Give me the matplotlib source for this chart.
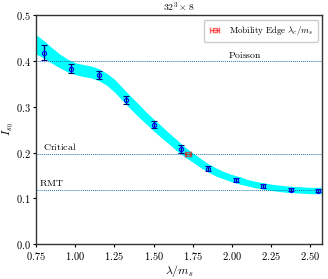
import numpy as np
import matplotlib
matplotlib.use('Agg')
import matplotlib.pyplot as plt

plt.rcParams['mathtext.fontset'] = 'cm'

# data points
lam = [0.80, 0.975, 1.15, 1.325, 1.50, 1.675, 1.85, 2.025, 2.20, 2.375, 2.55]
I_s0 = [0.418, 0.383, 0.369, 0.315, 0.261, 0.207, 0.165, 0.140, 0.127, 0.119, 0.117]
I_err = [0.017, 0.010, 0.008, 0.009, 0.008, 0.009, 0.005, 0.004, 0.004, 0.003, 0.003]

# fit band
band_x = [0.75, 0.80, 0.85, 0.90, 0.95, 1.00, 1.05, 1.10, 1.15, 1.20, 1.25, 1.30,
          1.35, 1.40, 1.45, 1.50, 1.55, 1.60, 1.65, 1.70, 1.75, 1.80, 1.85, 1.90,
          1.95, 2.00, 2.05, 2.10, 2.15, 2.20, 2.25, 2.30, 2.35, 2.40, 2.45, 2.50, 2.57]
band_mid = [0.436, 0.425, 0.412, 0.400, 0.390, 0.383, 0.379, 0.376, 0.370, 0.360,
            0.346, 0.328, 0.310, 0.293, 0.276, 0.260, 0.245, 0.230, 0.215, 0.201,
            0.189, 0.177, 0.166, 0.157, 0.150, 0.144, 0.139, 0.134, 0.130, 0.127,
            0.124, 0.122, 0.120, 0.119, 0.118, 0.117, 0.117]
band_hw = [0.021, 0.019, 0.017, 0.015, 0.014, 0.013, 0.013, 0.013, 0.013, 0.013,
           0.014, 0.014, 0.014, 0.014, 0.013, 0.013, 0.013, 0.012, 0.012, 0.011,
           0.010, 0.010, 0.009, 0.009, 0.008, 0.008, 0.008, 0.007, 0.007, 0.007,
           0.007, 0.007, 0.007, 0.007, 0.007, 0.007, 0.007]

# mobility edge
lam_c = 1.718
lam_c_err = 0.02
I_c = 0.1966

# reference lines
lines = {'Poisson': 0.3989, 'Critical': 0.1966, 'RMT': 0.1180}
label_pos = {'Poisson': 2.08, 'Critical': 0.90, 'RMT': 0.85}

xticks = [0.75, 1.00, 1.25, 1.50, 1.75, 2.00, 2.25, 2.50]
yticks = [0.0, 0.1, 0.2, 0.3, 0.4, 0.5]

fig, ax = plt.subplots(figsize=(3.28, 2.79), dpi=100)
fig.subplots_adjust(left=0.11, right=0.982, top=0.946, bottom=0.125)

bm = np.array(band_mid)
bh = np.array(band_hw)
ax.fill_between(band_x, bm - bh, bm + bh, color='cyan', lw=0, zorder=1)

for name, val in lines.items():
    ax.axhline(val, ls=(0, (1, 1)), color='tab:blue', lw=0.7, zorder=2)
    ax.text(label_pos[name], val + 0.004, r'$\mathrm{%s}$' % name, ha='center',
            va='bottom', fontsize=7)

ax.errorbar(lam, I_s0, yerr=I_err, fmt='o', ms=3, mfc='none', mec='blue', mew=0.8,
            ecolor='navy', elinewidth=1.0, capsize=2.5, capthick=1.0, zorder=3)
ax.errorbar([lam_c], [I_c], xerr=[lam_c_err], fmt='s', ms=2.5, mfc='none', color='red',
            alpha=0.6, elinewidth=1.0, capsize=2.5, capthick=1.0, zorder=4,
            label=r'$\mathrm{Mobility\ Edge}\ \lambda_c/m_s$')

ax.set_xlim(0.75, 2.575)
ax.set_ylim(0.0, 0.5)
ax.set_xticks(xticks)
ax.set_xticklabels(['$%.2f$' % t for t in xticks])
ax.set_yticks(yticks)
ax.set_yticklabels(['$%.1f$' % t for t in yticks])
ax.tick_params(labelsize=7.5, length=2.5, width=0.8, pad=1.5)
for s in ax.spines.values():
    s.set_linewidth(1.0)
    s.set_color('#333333')

ax.set_xlabel(r'$\lambda/m_s$', fontsize=8.5, labelpad=1)
ax.set_ylabel(r'$I_{s_0}$', fontsize=8.5, labelpad=0)
ax.set_title(r'$32^3\times 8$', fontsize=7, pad=3)
ax.legend(loc='upper right', fontsize=6.5, handlelength=1.5, borderpad=0.5,
          framealpha=1, edgecolor='#cccccc')

fig.savefig('out.png', dpi=100)
